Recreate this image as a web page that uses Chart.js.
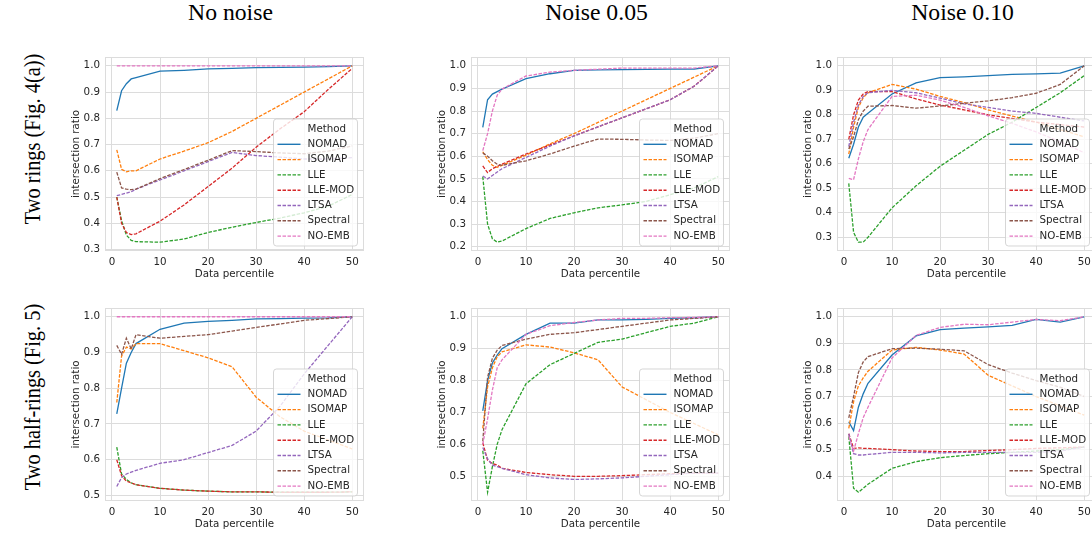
<!DOCTYPE html>
<html lang="en">
<head>
<meta charset="UTF-8">
<title>Intersection ratio vs. data percentile</title>
<script src="https://cdn.jsdelivr.net/npm/chart.js"></script>
<style>
  html, body { margin: 0; padding: 0; background: #fff; }
  body { width: 1092px; height: 533px; position: relative; overflow: hidden; }
  canvas { position: absolute; }
  .colTitle {
    position: absolute; top: 1px;
    font: 23.7px/1 "Liberation Serif", "Times New Roman", serif;
    color: #000; white-space: nowrap;
    transform: translateX(-50%);
  }
  .rowTitle {
    position: absolute;
    font: 23.7px/1 "Liberation Serif", "Times New Roman", serif;
    color: #000; white-space: nowrap;
    transform: translate(-50%, -50%) rotate(-90deg) scaleX(0.86);
  }
</style>
</head>
<body>
<div class="colTitle" style="left:230.5px">No noise</div>
<div class="colTitle" style="left:596.5px">Noise 0.05</div>
<div class="colTitle" style="left:962.5px">Noise 0.10</div>
<div class="rowTitle" style="left:32.7px; top:139px">Two rings (Fig. 4(a))</div>
<div class="rowTitle" style="left:32.7px; top:396.7px">Two half-rings (Fig. 5)</div>

<script>
const percentiles = [1, 2, 3, 4, 5, 10, 15, 20, 25, 30, 35, 40, 45, 50];
const methods = ['NOMAD', 'ISOMAP', 'LLE', 'LLE-MOD', 'LTSA', 'Spectral', 'NO-EMB'];
const colors = ['#1f77b4', '#ff7f0e', '#2ca02c', '#d62728', '#9467bd', '#8c564b', '#e377c2'];
const xTicks = [0, 10, 20, 30, 40, 50];

// each row below follows the order of `methods`
const ringsNoNoise = [
  [0.829, 0.905, 0.932, 0.950, 0.955, 0.980, 0.983, 0.988, 0.990, 0.993, 0.994, 0.995, 0.997, 1.000],
  [0.680, 0.606, 0.596, 0.600, 0.600, 0.645, 0.675, 0.707, 0.750, 0.800, 0.850, 0.900, 0.950, 1.000],
  [0.500, 0.410, 0.355, 0.335, 0.330, 0.328, 0.340, 0.365, 0.385, 0.403, 0.420, 0.440, 0.465, 0.510],
  [0.500, 0.400, 0.365, 0.357, 0.360, 0.408, 0.470, 0.540, 0.610, 0.690, 0.760, 0.825, 0.910, 0.990],
  [0.505, 0.510, 0.515, 0.520, 0.530, 0.565, 0.600, 0.635, 0.670, 0.658, 0.652, 0.645, 0.645, 0.650],
  [0.595, 0.535, 0.530, 0.528, 0.530, 0.570, 0.605, 0.640, 0.677, 0.673, 0.668, 0.665, 0.675, 0.695],
  [1.000, 1.000, 1.000, 1.000, 1.000, 1.000, 1.000, 1.000, 1.000, 1.000, 1.000, 1.000, 1.000, 1.000]
];
const ringsNoise05 = [
  [0.728, 0.850, 0.875, 0.886, 0.897, 0.943, 0.965, 0.980, 0.982, 0.983, 0.984, 0.985, 0.986, 1.000],
  [0.620, 0.585, 0.560, 0.551, 0.560, 0.605, 0.655, 0.700, 0.750, 0.800, 0.850, 0.900, 0.950, 1.000],
  [0.510, 0.300, 0.235, 0.220, 0.225, 0.280, 0.325, 0.350, 0.372, 0.385, 0.400, 0.430, 0.460, 0.510],
  [0.557, 0.528, 0.545, 0.555, 0.565, 0.610, 0.650, 0.690, 0.730, 0.770, 0.810, 0.850, 0.910, 1.000],
  [0.513, 0.500, 0.515, 0.530, 0.545, 0.595, 0.645, 0.690, 0.730, 0.770, 0.810, 0.850, 0.910, 1.000],
  [0.615, 0.600, 0.580, 0.565, 0.560, 0.580, 0.610, 0.645, 0.676, 0.675, 0.672, 0.670, 0.680, 0.700],
  [0.625, 0.700, 0.800, 0.870, 0.897, 0.955, 0.972, 0.980, 0.985, 0.990, 0.990, 0.990, 0.990, 1.000]
];
const ringsNoise10 = [
  [0.623, 0.680, 0.750, 0.790, 0.806, 0.885, 0.930, 0.952, 0.955, 0.960, 0.965, 0.967, 0.970, 1.000],
  [0.640, 0.750, 0.830, 0.870, 0.890, 0.924, 0.905, 0.875, 0.850, 0.820, 0.795, 0.770, 0.740, 0.710],
  [0.520, 0.320, 0.280, 0.280, 0.300, 0.420, 0.510, 0.590, 0.655, 0.720, 0.770, 0.830, 0.890, 0.960],
  [0.700, 0.800, 0.860, 0.885, 0.895, 0.895, 0.865, 0.840, 0.820, 0.800, 0.785, 0.770, 0.760, 0.750],
  [0.670, 0.770, 0.840, 0.875, 0.890, 0.900, 0.890, 0.868, 0.845, 0.830, 0.815, 0.806, 0.790, 0.775],
  [0.660, 0.710, 0.780, 0.815, 0.835, 0.838, 0.827, 0.836, 0.847, 0.857, 0.870, 0.888, 0.924, 1.000],
  [0.540, 0.535, 0.620, 0.690, 0.740, 0.875, 0.880, 0.860, 0.830, 0.796, 0.765, 0.730, 0.690, 0.645]
];
const halfNoNoise = [
  [0.728, 0.800, 0.870, 0.900, 0.925, 0.965, 0.982, 0.987, 0.990, 0.994, 0.995, 0.996, 0.997, 1.000],
  [0.760, 0.890, 0.915, 0.910, 0.925, 0.925, 0.905, 0.885, 0.860, 0.775, 0.720, 0.680, 0.655, 0.630],
  [0.635, 0.560, 0.545, 0.535, 0.530, 0.520, 0.515, 0.512, 0.510, 0.510, 0.509, 0.509, 0.509, 0.510],
  [0.600, 0.555, 0.540, 0.535, 0.530, 0.520, 0.515, 0.512, 0.510, 0.510, 0.509, 0.509, 0.509, 0.510],
  [0.525, 0.550, 0.560, 0.565, 0.570, 0.590, 0.600, 0.620, 0.640, 0.680, 0.750, 0.840, 0.920, 1.000],
  [0.920, 0.895, 0.940, 0.910, 0.950, 0.940, 0.945, 0.950, 0.960, 0.970, 0.980, 0.990, 0.995, 1.000],
  [1.000, 1.000, 1.000, 1.000, 1.000, 1.000, 1.000, 1.000, 1.000, 1.000, 1.000, 1.000, 1.000, 1.000]
];
const halfNoise05 = [
  [0.705, 0.800, 0.855, 0.880, 0.900, 0.945, 0.980, 0.980, 0.990, 0.990, 0.992, 0.995, 0.997, 1.000],
  [0.650, 0.780, 0.840, 0.875, 0.890, 0.912, 0.905, 0.887, 0.865, 0.780, 0.740, 0.700, 0.665, 0.630],
  [0.580, 0.450, 0.530, 0.600, 0.646, 0.790, 0.850, 0.885, 0.920, 0.930, 0.950, 0.970, 0.980, 1.000],
  [0.605, 0.550, 0.540, 0.535, 0.525, 0.512, 0.505, 0.500, 0.500, 0.502, 0.505, 0.508, 0.510, 0.510],
  [0.590, 0.555, 0.535, 0.530, 0.525, 0.505, 0.495, 0.490, 0.492, 0.495, 0.500, 0.505, 0.510, 0.510],
  [0.610, 0.810, 0.870, 0.895, 0.910, 0.930, 0.945, 0.950, 0.960, 0.970, 0.980, 0.990, 0.995, 1.000],
  [0.600, 0.680, 0.770, 0.840, 0.865, 0.945, 0.972, 0.982, 0.990, 0.995, 0.995, 0.997, 0.998, 1.000]
];
const halfNoise10 = [
  [0.605, 0.572, 0.660, 0.710, 0.750, 0.856, 0.928, 0.952, 0.957, 0.962, 0.968, 0.990, 0.980, 1.000],
  [0.580, 0.680, 0.740, 0.770, 0.795, 0.875, 0.885, 0.875, 0.860, 0.780, 0.740, 0.700, 0.665, 0.630],
  [0.550, 0.355, 0.340, 0.355, 0.370, 0.430, 0.455, 0.470, 0.478, 0.485, 0.490, 0.495, 0.500, 0.510],
  [0.560, 0.505, 0.507, 0.505, 0.505, 0.500, 0.495, 0.493, 0.493, 0.497, 0.500, 0.505, 0.507, 0.510],
  [0.560, 0.485, 0.480, 0.480, 0.482, 0.490, 0.490, 0.488, 0.490, 0.490, 0.490, 0.490, 0.495, 0.510],
  [0.620, 0.700, 0.790, 0.830, 0.850, 0.880, 0.882, 0.878, 0.872, 0.820, 0.788, 0.760, 0.735, 0.700],
  [0.550, 0.495, 0.560, 0.620, 0.660, 0.845, 0.930, 0.960, 0.972, 0.970, 0.980, 0.990, 0.985, 1.000]
];

const panels = [
  { values: ringsNoNoise, col: 0, row: 0 },
  { values: ringsNoise05, col: 1, row: 0 },
  { values: ringsNoise10, col: 2, row: 0 },
  { values: halfNoNoise,  col: 0, row: 1 },
  { values: halfNoise05,  col: 1, row: 1 },
  { values: halfNoise10,  col: 2, row: 1 }
];

// plot-area geometry in page pixels
const colLeft = [105, 471, 837];
const rowTop = [57, 308];
const plotW = 259;
const plotH = [194, 193];
const padL = 40, padT = 14, padR = 14, padB = 32;

const GRID = '#dcdcdc';
const TEXT = '#262626';
Chart.defaults.font.family = "'DejaVu Sans', sans-serif";
Chart.defaults.font.size = 10.3;
Chart.defaults.color = TEXT;

// light frame round the plot area
const frame = {
  id: 'frame',
  beforeDatasetsDraw(chart) {
    const { ctx, chartArea: a } = chart;
    ctx.save();
    ctx.strokeStyle = GRID;
    ctx.lineWidth = 1;
    ctx.strokeRect(Math.round(a.left) + 0.5, Math.round(a.top) + 0.5,
                   Math.round(a.right - a.left) - 1, Math.round(a.bottom - a.top) - 1);
    ctx.restore();
  }
};

// boxed legend in the lower-right corner of the plot area
const legendBox = {
  id: 'legendBox',
  afterDraw(chart) {
    const { ctx, chartArea: a } = chart;
    const w = 84, h = 127;
    const x = a.right - 6.5 - w, y = a.bottom - 5 - h;
    ctx.save();
    ctx.beginPath();
    ctx.roundRect(x, y, w, h, 3);
    ctx.fillStyle = 'rgba(255,255,255,0.8)';
    ctx.fill();
    ctx.strokeStyle = 'rgba(204,204,204,0.8)';
    ctx.lineWidth = 1;
    ctx.stroke();
    ctx.font = "10.3px 'DejaVu Sans', sans-serif";
    ctx.fillStyle = TEXT;
    ctx.textBaseline = 'middle';
    ctx.fillText('Method', x + 34, y + 10);
    chart.data.datasets.forEach((ds, i) => {
      const ly = y + 25.3 + i * 15.3;
      ctx.beginPath();
      ctx.setLineDash(ds.borderDash);
      ctx.strokeStyle = ds.borderColor;
      ctx.lineWidth = 1.4;
      ctx.moveTo(x + 4, ly);
      ctx.lineTo(x + 27, ly);
      ctx.stroke();
      ctx.setLineDash([]);
      ctx.fillText(ds.label, x + 34, ly);
    });
    ctx.restore();
  }
};

function yRange(values) {
  const all = values.flat();
  const lo = Math.min(...all), hi = Math.max(...all);
  const m = (hi - lo) * 0.05;
  return [lo - m, hi + m];
}

panels.forEach(p => {
  const ph = plotH[p.row];
  const canvas = document.createElement('canvas');
  canvas.width = padL + plotW + padR;
  canvas.height = padT + ph + padB;
  canvas.style.left = (colLeft[p.col] - padL) + 'px';
  canvas.style.top = (rowTop[p.row] - padT) + 'px';
  document.body.appendChild(canvas);

  const [yMin, yMax] = yRange(p.values);
  const datasets = methods.map((name, i) => ({
    label: name,
    data: percentiles.map((x, j) => ({ x, y: p.values[i][j] })),
    borderColor: colors[i],
    borderWidth: 1.3,
    borderDash: i === 0 ? [] : [3.5, 1.5],
    pointRadius: 0,
    tension: 0,
    fill: false,
    order: methods.length - i
  }));

  new Chart(canvas, {
    type: 'line',
    data: { datasets },
    options: {
      responsive: false,
      animation: false,
      events: [],
      layout: { padding: { left: 0, top: padT, right: padR, bottom: 0 } },
      plugins: { legend: { display: false }, tooltip: { enabled: false } },
      scales: {
        x: {
          type: 'linear',
          min: -1.45, max: 52.45,
          afterBuildTicks: axis => { axis.ticks = xTicks.map(v => ({ value: v })); },
          afterFit: axis => { axis.height = padB; },
          ticks: { padding: 5, callback: v => String(v), maxRotation: 0 },
          grid: { color: GRID, drawTicks: false },
          border: { display: false },
          title: { display: true, text: 'Data percentile', padding: { top: 0, bottom: 2.4 } }
        },
        y: {
          min: yMin, max: yMax,
          afterBuildTicks: axis => {
            const t = [];
            for (let k = Math.ceil(axis.min * 10 - 1e-6); k <= Math.floor(axis.max * 10 + 1e-6); k++) t.push({ value: k / 10 });
            axis.ticks = t;
          },
          afterFit: axis => { axis.width = padL; },
          ticks: { padding: 5, callback: v => v.toFixed(1) },
          grid: { color: GRID, drawTicks: false },
          border: { display: false },
          title: { display: true, text: 'intersection ratio', padding: { top: 5, bottom: 0 } }
        }
      }
    },
    plugins: [frame, legendBox]
  });
});
</script>
</body>
</html>
